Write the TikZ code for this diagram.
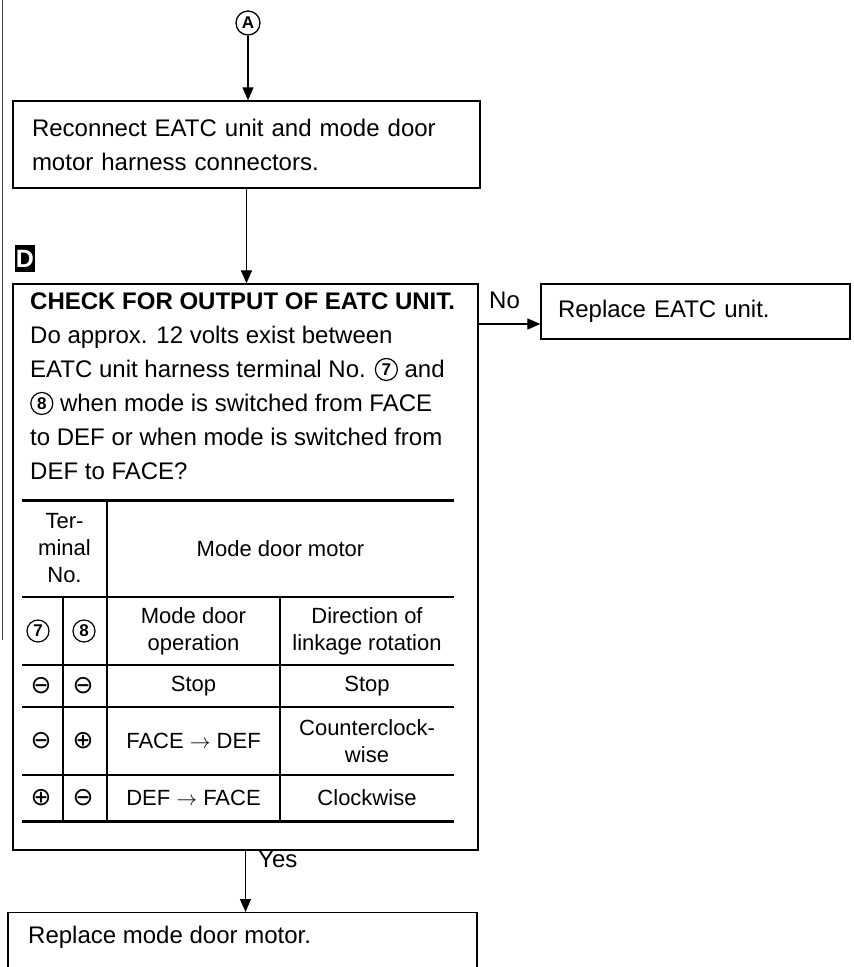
\documentclass[tikz,border=0pt]{standalone}
\usepackage{fontspec}
\setmainfont{Liberation Sans}
\newfontfamily\symfont{DejaVu Sans}
\usetikzlibrary{arrows.meta, positioning}

\tikzset{
  flowbox/.style={draw, line width=1.4pt, rectangle, inner sep=0pt},
  bodytext/.style={font=\fontsize{24}{34}\selectfont, align=left},
  celltext/.style={font=\fontsize{22}{27}\selectfont, align=center, inner sep=0pt},
  cellsym/.style={font=\fontsize{25}{25}\selectfont\symfont, inner sep=0pt},
  numcircle/.style={draw, circle, line width=1.2pt, minimum size=22pt, inner sep=0pt,
    anchor=center, text width={}, align=center, font=\fontsize{17}{17}\selectfont\bfseries},
  flowarrow/.style={line width=1.3pt, -{Triangle[length=13pt,width=11pt]}},
  thinrule/.style={line width=1.2pt},
  thickrule/.style={line width=3pt}
}
\newcommand{\circnum}[1]{\tikz[baseline=-8.5pt]\node[numcircle] at (0,0) {#1};}

\begin{document}
\begin{tikzpicture}[x=1pt, y=-1pt]
\useasboundingbox (0,0) rectangle (854,967);
\clip (0,0) rectangle (854,967);
\draw[line width=0.8pt, black!70] (2,0) -- (2,640);

\node[draw, circle, line width=1.3pt, minimum size=24pt, inner sep=0pt,
  font=\fontsize{17}{17}\selectfont\bfseries] (markA) at (248,23) {A};
\node[flowbox, bodytext, text width=429pt, inner xsep=19pt, minimum width=467pt,
  minimum height=87pt] (reconn) at (246.5,144.5)
  {Reconnect EATC unit and mode door\\motor harness connectors.};

\node[fill=black, text=white, minimum width=20pt, minimum height=27pt, inner sep=0pt,
  font=\fontsize{25}{25}\selectfont\bfseries] (markD) at (25,258.5) {D};
\node[flowbox, minimum width=465pt, minimum height=566pt] (chk) at (245.5,567) {};
\node[bodytext, anchor=north west, inner sep=0pt] (chktxt) at (30,293)
  {\textbf{CHECK FOR OUTPUT OF EATC UNIT.}\\Do approx. 12 volts exist between\\
   EATC unit harness terminal No. \circnum{7} and\\\circnum{8} when mode is switched from FACE\\
   to DEF or when mode is switched from\\DEF to FACE?};

\draw[thickrule] (22,500) -- (454,500);
\draw[thickrule] (22,821) -- (454,821);
\foreach \ry in {597,665,707,775}
  \draw[thinrule] (22,\ry) -- (454,\ry);
\draw[thinrule] (107,500) -- (107,821);
\draw[thinrule] (63,597) -- (63,821);
\draw[thinrule] (280,597) -- (280,821);

\node[celltext] (hterm) at (64.5,548.5) {Ter-\\minal\\No.};
\node[celltext] (hmotor) at (280.5,548.5) {Mode door motor};
\node[numcircle] (hseven) at (38,631) {7};
\node[numcircle] (height) at (84,631) {8};
\node[celltext] (hop) at (193.5,631) {Mode door\\operation};
\node[celltext] (hdir) at (367,631) {Direction of\\linkage rotation};

\node[cellsym] (sseven) at (41,686) {⊖};
\node[cellsym] (seight) at (83,686) {⊖};
\node[celltext] (sop) at (193.5,686) {Stop};
\node[celltext] (sdir) at (367,686) {Stop};

\node[cellsym] (fseven) at (41,741) {⊖};
\node[cellsym] (feight) at (83,741) {⊕};
\node[celltext] (fop) at (193.5,741) {FACE $\rightarrow$ DEF};
\node[celltext] (fdir) at (367,741) {Counterclock-\\wise};

\node[cellsym] (dseven) at (41,798) {⊕};
\node[cellsym] (deight) at (83,798) {⊖};
\node[celltext] (dop) at (193.5,798) {DEF $\rightarrow$ FACE};
\node[celltext] (ddir) at (367,798) {Clockwise};

\node[flowbox, bodytext, text width=275pt, inner xsep=17pt, minimum height=55pt]
  (eatc) at (695.5,311.5) {Replace EATC unit.};
\coordinate (nostart) at (478,324);
\node[bodytext, anchor=base west, inner sep=0pt] (nolbl) at (489,308) {No};

\node[flowbox, minimum width=469pt, minimum height=100pt, anchor=north] (motor) at (242.5,912) {};
\node[bodytext, anchor=west, inner sep=0pt] (motorlbl) at (28,937) {Replace mode door motor.};
\node[bodytext, anchor=base west, inner sep=0pt] (yeslbl) at (258,867) {Yes};

\draw[flowarrow] (markA) -- (markA |- reconn.north);
\draw[flowarrow] (reconn.south) -- (reconn.south |- chk.north);
\draw[flowarrow] (nostart) -- (nostart -| eatc.west);
\draw[flowarrow] (chk.south) -- (chk.south |- motor.north);
\end{tikzpicture}
\end{document}
